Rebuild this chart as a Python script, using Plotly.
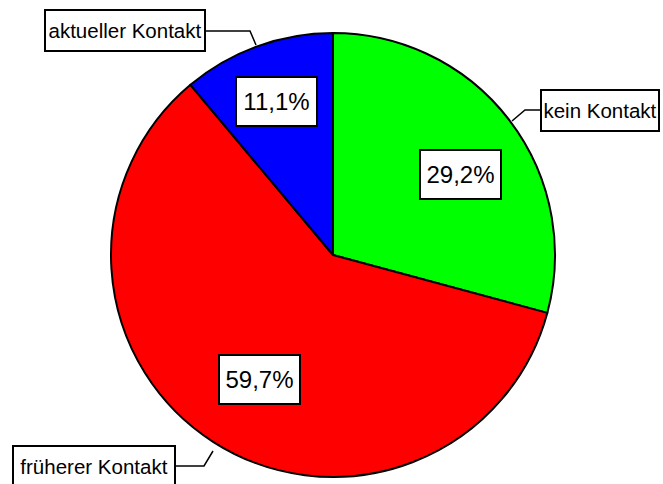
import plotly.graph_objects as go

categories = ["kein Kontakt", "früherer Kontakt", "aktueller Kontakt"]
values = [29.2, 59.7, 11.1]
colors = ["#00FF00", "#FF0000", "#0000FF"]

W, H = 663, 484
cx, cy, r = 333, 255, 222

fig = go.Figure(go.Pie(
    labels=categories,
    values=values,
    sort=False,
    direction="clockwise",
    rotation=0,
    marker=dict(colors=colors, line=dict(color="black", width=2)),
    textinfo="none",
    hoverinfo="label+percent",
    showlegend=False,
    domain=dict(x=[(cx - r) / W, (cx + r) / W], y=[1 - (cy + r) / H, 1 - (cy - r) / H]),
))

def px(x):
    return x / W

def py(y):
    return 1 - y / H

font_name = "Liberation Sans, Arial, sans-serif"
pct_texts = [f"{v:.1f}".replace(".", ",") + "%" for v in values]

# label box centres (pixels)
pct_pos = [(460, 174), (259, 379), (276, 101)]
name_pos = [(600, 110), (94, 466), (125, 31)]
name_w = [116, 160, 158]

anns = []
for t, (x, y) in zip(pct_texts, pct_pos):
    anns.append(dict(x=px(x), y=py(y), xref="paper", yref="paper", text=t, showarrow=False,
                     font=dict(family=font_name, size=24, color="black"),
                     bgcolor="white", bordercolor="black", borderwidth=2, borderpad=0,
                     width=79, height=47, xanchor="center", yanchor="middle"))
for t, (x, y), w in zip(categories, name_pos, name_w):
    anns.append(dict(x=px(x), y=py(y), xref="paper", yref="paper", text=t, showarrow=False,
                     font=dict(family=font_name, size=20.5, color="black"),
                     bgcolor="white", bordercolor="black", borderwidth=2, borderpad=0,
                     width=w, height=39, xanchor="center", yanchor="middle"))

# leader lines
leaders = [
    [(542, 110), (525, 110), (512, 121)],
    [(176, 466), (204, 466), (213, 451)],
    [(206, 31), (250, 31), (256, 45)],
]
shapes = []
for pts in leaders:
    path = "M " + " L ".join(f"{px(x)},{py(y)}" for x, y in pts)
    shapes.append(dict(type="path", xref="paper", yref="paper", path=path,
                       line=dict(color="black", width=1.5), layer="below"))

fig.update_layout(
    width=W, height=H,
    margin=dict(l=0, r=0, t=0, b=0),
    paper_bgcolor="white", plot_bgcolor="white",
    annotations=anns, shapes=shapes,
)

fig.write_html("out.html", config={"displayModeBar": False},
               post_script="document.body.style.margin='0';document.body.style.overflow='hidden';")
